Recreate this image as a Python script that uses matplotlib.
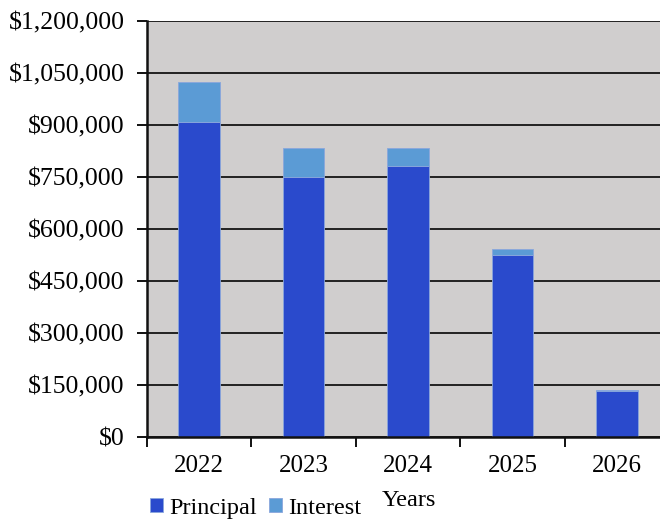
import matplotlib
matplotlib.use('Agg')
import matplotlib.pyplot as plt
from matplotlib.ticker import FuncFormatter, FixedLocator
import numpy as np

# yearly repayment split
years = ['2022', '2023', '2024', '2025', '2026']
principal = [910000, 750000, 783000, 525000, 132000]
interest = [115000, 83000, 50000, 18000, 5000]

plt.rcParams['font.family'] = ['Liberation Serif', 'DejaVu Serif']

fig = plt.figure(figsize=(6.6, 5.22), dpi=100)
ax = fig.add_axes([147/660, 1-437/522, (669-147)/660, (437-21)/522])
ax.set_facecolor('#d0cece')

x = np.arange(len(years))
ax.bar(x, principal, width=0.4, color='#2a4acc', edgecolor='#8aa6dc', linewidth=0.6,
       label='Principal', zorder=3)
ax.bar(x, interest, width=0.4, bottom=principal, color='#5b9bd5', edgecolor='#8aa6dc',
       linewidth=0.6, label='Interest', zorder=3)

ax.set_xlim(-0.5, len(years) - 0.5)
ax.set_ylim(0, 1200000)
ax.set_yticks(np.arange(0, 1200001, 150000))
ax.yaxis.set_major_formatter(FuncFormatter(lambda v, p: '${:,.0f}'.format(v)))
ax.grid(axis='y', color='#222222', linewidth=1.4, zorder=1)

# category labels centred on bars, tick marks on the boundaries
ax.xaxis.set_major_locator(FixedLocator(np.arange(-0.5, len(years), 1.0)))
ax.xaxis.set_major_formatter(FuncFormatter(lambda v, p: ''))
ax.set_xticks(x, minor=True)
ax.set_xticklabels(years, minor=True)
ax.tick_params(axis='x', which='minor', length=0, pad=13, labelsize=18)
ax.tick_params(axis='x', which='major', length=7, width=1.4, direction='out', color='#111111')
ax.tick_params(axis='y', length=7, width=1.4, pad=9, labelsize=18.5, color='#111111')

for s in ['top', 'right']:
    ax.spines[s].set_visible(False)
for s in ['left', 'bottom']:
    ax.spines[s].set_linewidth(1.8)
    ax.spines[s].set_color('#111111')
    ax.spines[s].set_zorder(4)

fig.text(409/660, 1-500/522, 'Years', ha='center', va='center', fontsize=17.5)

fig.legend(loc='lower left', bbox_to_anchor=(140/660, -0.012), ncol=2, frameon=False,
           fontsize=17.5, handlelength=0.55, handleheight=0.55, handletextpad=0.25,
           columnspacing=0.5, borderaxespad=0)

fig.savefig('out.png', dpi=100)
